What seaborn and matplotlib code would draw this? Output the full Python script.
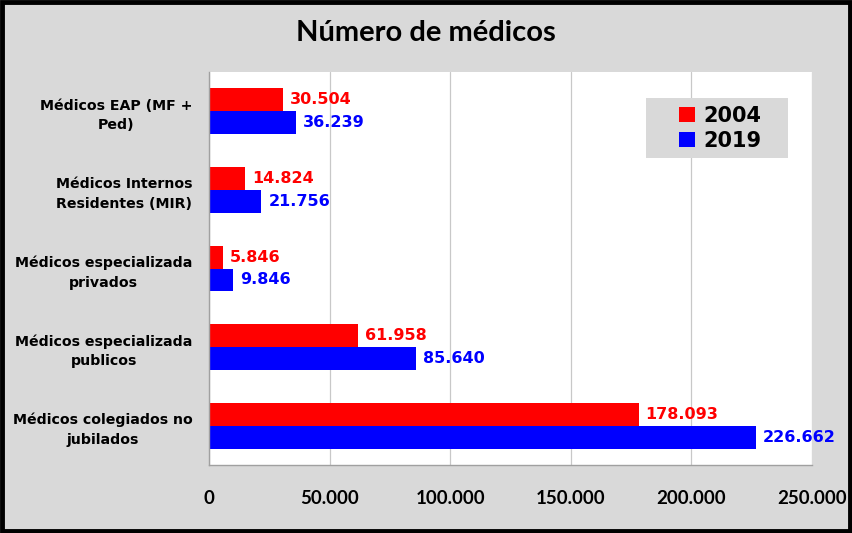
import matplotlib
matplotlib.use("Agg")
import matplotlib.pyplot as plt
import seaborn as sns
import pandas as pd
from matplotlib.patches import Rectangle

# ── Data ──────────────────────────────────────────────────────────────────────
CATEGORIES = ["Médicos EAP (MF +\nPed)",
              "Médicos Internos\nResidentes (MIR)",
              "Médicos especializada\nprivados",
              "Médicos especializada\npublicos",
              "Médicos colegiados no\njubilados"]
YEARS = ["2004", "2019"]
VALUES_2004 = [30504, 14824, 5846, 61958, 178093]
VALUES_2019 = [36239, 21756, 9846, 85640, 226662]
X_TICKS = [0, 50000, 100000, 150000, 200000, 250000]

COLORS = {"2004": "#ff0000", "2019": "#0000ff"}
BG = "#d9d9d9"
CAL = ["Lato", "DejaVu Sans"]  # stand-in for Calibri


def fmt(v):
    return f"{int(v):,}".replace(",", ".")


df = pd.DataFrame({
    "cat": CATEGORIES * 2,
    "year": [YEARS[0]] * len(CATEGORIES) + [YEARS[1]] * len(CATEGORIES),
    "value": VALUES_2004 + VALUES_2019,
})

# ── Plot ──────────────────────────────────────────────────────────────────────
sns.set_theme(style="white")
plt.rcParams["font.family"] = ["DejaVu Sans"]
plt.rcParams.update({"text.color": "black", "xtick.color": "black",
                     "ytick.color": "black", "axes.labelcolor": "black"})

fig = plt.figure(figsize=(8.52, 5.33), dpi=100, facecolor=BG)
ax = fig.add_axes([209 / 852, 1 - 465 / 533, 603 / 852, 393 / 533])
ax.set_facecolor("white")

sns.barplot(data=df, y="cat", x="value", hue="year", orient="h",
            palette=COLORS, width=0.585, saturation=1, linewidth=0,
            ax=ax, legend=True)

for cont, yr in zip(ax.containers, YEARS):
    vals = VALUES_2004 if yr == "2004" else VALUES_2019
    ax.bar_label(cont, labels=[fmt(v) for v in vals], padding=5,
                 color=COLORS[yr], fontsize=11.5, fontweight="bold")

ax.set_xlim(0, 250000)
ax.set_xticks(X_TICKS)
ax.set_xticklabels([fmt(t) for t in X_TICKS], fontsize=13.5, fontweight="bold",
                   family=CAL)
ax.tick_params(axis="x", length=0, pad=18)
ax.tick_params(axis="y", length=0, pad=12)
for lab in ax.get_yticklabels():
    lab.set_fontsize(10.2)
    lab.set_fontweight("bold")
    lab.set_multialignment("center")
    lab.set_linespacing(1.5)
ax.set_xlabel("")
ax.set_ylabel("")
ax.grid(axis="x", color="#c8c8c8", linewidth=0.9)
ax.set_axisbelow(True)
for s in ["top", "right"]:
    ax.spines[s].set_visible(False)
for s in ["left", "bottom"]:
    ax.spines[s].set_color("#a0a0a0")
    ax.spines[s].set_linewidth(1)

# legend: grey box drawn separately so the padding can be uneven like the original
ax.add_patch(Rectangle((0.7247, 0.781), 0.235, 0.153, transform=ax.transAxes,
                       facecolor=BG, edgecolor="none", zorder=4))
leg = ax.legend(loc="center", bbox_to_anchor=(0.848, 0.857), frameon=False,
                prop={"weight": "bold", "size": 15}, handlelength=0.75,
                handleheight=0.75, handletextpad=0.4, borderpad=0,
                labelspacing=0.25, borderaxespad=0)
leg.set_title(None)
leg.set_zorder(5)

fig.text(0.5, 1 - 33 / 533, "Número de médicos", ha="center", va="center",
         fontsize=21, fontweight="bold", family=CAL)

fig.patches.append(Rectangle((0.002, 0.003), 0.996, 0.994, transform=fig.transFigure,
                             fill=False, edgecolor="black", linewidth=3.5))

fig.savefig("out.png", dpi=100, facecolor=BG)
